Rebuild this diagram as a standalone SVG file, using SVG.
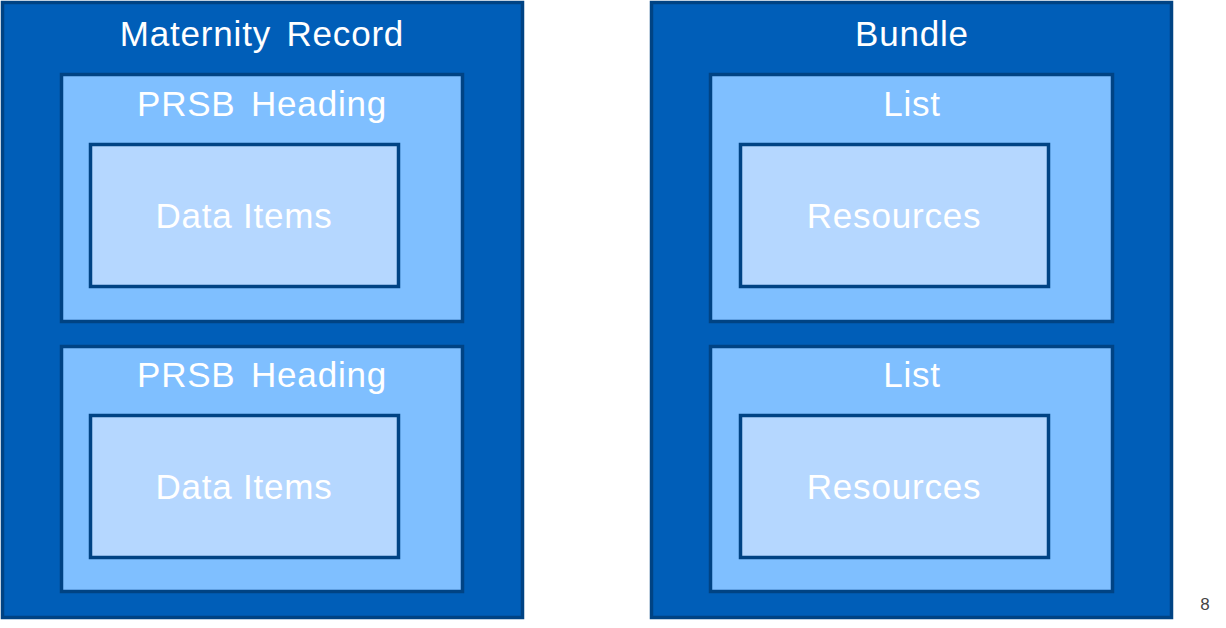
<svg xmlns="http://www.w3.org/2000/svg" width="1226" height="628" viewBox="0 0 1226 628">
<style>
.outer{fill:#005EB8;stroke:#004384;stroke-width:3.5}
.mid{fill:#7FBFFF;stroke:#004384;stroke-width:3.5}
.inner{fill:#B5D7FF;stroke:#004384;stroke-width:3.5}
text{font-family:"Liberation Sans",Arial,sans-serif;fill:#FFFFFF;text-anchor:middle}
.t1{font-size:35px;letter-spacing:0.8px}
.ws{word-spacing:5px}
.pg{font-size:17px;fill:#444444}
</style>
<rect width="1226" height="628" fill="#FFFFFF"/>
<g id="maternity-record">
<rect class="outer" x="2.5" y="2.5" width="520" height="615"/>
<text class="t1 ws" x="262" y="46">Maternity Record</text>
</g>
<g id="prsb-heading-1">
<rect class="mid" x="61.5" y="74.5" width="401" height="247"/>
<text class="t1 ws" x="262" y="116">PRSB Heading</text>
</g>
<g id="data-items-1">
<rect class="inner" x="90.5" y="144.5" width="308" height="142"/>
<text class="t1" x="244" y="228">Data Items</text>
</g>
<g id="prsb-heading-2">
<rect class="mid" x="61.5" y="346.5" width="401" height="245"/>
<text class="t1 ws" x="262" y="387">PRSB Heading</text>
</g>
<g id="data-items-2">
<rect class="inner" x="90.5" y="415.5" width="308" height="142"/>
<text class="t1" x="244" y="499">Data Items</text>
</g>
<g id="bundle">
<rect class="outer" x="651.5" y="2.5" width="520" height="615"/>
<text class="t1" x="912" y="46">Bundle</text>
</g>
<g id="list-1">
<rect class="mid" x="710.5" y="74.5" width="402" height="247"/>
<text class="t1" x="912" y="116">List</text>
</g>
<g id="resources-1">
<rect class="inner" x="740.5" y="144.5" width="308" height="142"/>
<text class="t1" x="894" y="228">Resources</text>
</g>
<g id="list-2">
<rect class="mid" x="710.5" y="346.5" width="402" height="245"/>
<text class="t1" x="912" y="387">List</text>
</g>
<g id="resources-2">
<rect class="inner" x="740.5" y="415.5" width="308" height="142"/>
<text class="t1" x="894" y="499">Resources</text>
</g>
<g id="connectors"></g>
<text class="pg" x="1205" y="610">8</text>
</svg>
